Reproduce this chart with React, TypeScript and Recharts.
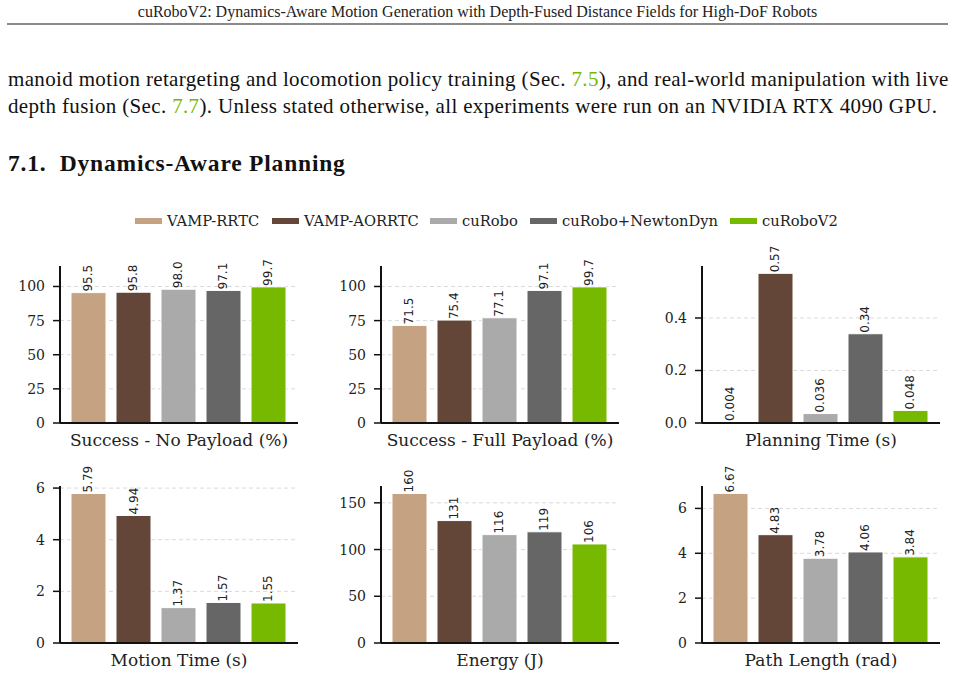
import React from 'react';
import { BarChart, Bar, XAxis, YAxis, CartesianGrid, Cell, LabelList, Label } from 'recharts';

const methods = ['VAMP-RRTC', 'VAMP-AORRTC', 'cuRobo', 'cuRobo+NewtonDyn', 'cuRoboV2'];
const methodColors = ['#c4a282', '#634638', '#aaaaaa', '#666666', '#76b900'];

const successNoPayload = [95.5, 95.8, 98.0, 97.1, 99.7];
const successFullPayload = [71.5, 75.4, 77.1, 97.1, 99.7];
const planningTime = [0.004, 0.57, 0.036, 0.34, 0.048];
const motionTime = [5.79, 4.94, 1.37, 1.57, 1.55];
const energy = [160, 131, 116, 119, 106];
const pathLength = [6.67, 4.83, 3.78, 4.06, 3.84];

const percentTicks = [0, 25, 50, 75, 100];
const planningTicks = [0, 0.2, 0.4];
const motionTicks = [0, 2, 4, 6];
const energyTicks = [0, 50, 100, 150];
const pathTicks = [0, 2, 4, 6];

const SERIF = '"DejaVu Serif", serif';
const SANS = '"DejaVu Sans", sans-serif';
const PAGE = '"Liberation Serif", serif';
const GREEN = '#76b900';

// left edge of each legend swatch
const legendX = [135, 272, 430, 530, 730];

type PanelDef = {
  title: string;
  values: number[];
  domain: [number, number];
  ticks: number[];
  tickFmt: (v: number) => string;
  labelFmt: (v: number) => string;
};

const panels: PanelDef[] = [
  { title: 'Success - No Payload (%)', values: successNoPayload, domain: [0, 115], ticks: percentTicks, tickFmt: (v) => String(v), labelFmt: (v) => v.toFixed(1) },
  { title: 'Success - Full Payload (%)', values: successFullPayload, domain: [0, 115], ticks: percentTicks, tickFmt: (v) => String(v), labelFmt: (v) => v.toFixed(1) },
  { title: 'Planning Time (s)', values: planningTime, domain: [0, 0.598], ticks: planningTicks, tickFmt: (v) => v.toFixed(1), labelFmt: (v) => String(v) },
  { title: 'Motion Time (s)', values: motionTime, domain: [0, 6.08], ticks: motionTicks, tickFmt: (v) => String(v), labelFmt: (v) => v.toFixed(2) },
  { title: 'Energy (J)', values: energy, domain: [0, 168], ticks: energyTicks, tickFmt: (v) => String(v), labelFmt: (v) => v.toFixed(0) },
  { title: 'Path Length (rad)', values: pathLength, domain: [0, 7.0], ticks: pathTicks, tickFmt: (v) => String(v), labelFmt: (v) => v.toFixed(2) },
];

// value printed vertically just above the bar top
function RotLabel(props: any) {
  const { x, y, width, value, fmt } = props;
  const cx = Number(x) + Number(width) / 2;
  const cy = Number(y) - 1;
  return (
    <text
      x={cx}
      y={cy}
      transform={`rotate(-90, ${cx}, ${cy})`}
      textAnchor="start"
      dominantBaseline="central"
      fontFamily={SANS}
      fontSize={12}
      fill="#222"
    >
      {fmt(Number(value))}
    </text>
  );
}

// metric name centred under the x axis
function AxisTitle(props: any) {
  const { viewBox, value } = props;
  const cx = viewBox.x + viewBox.width / 2;
  return (
    <text x={cx} y={viewBox.y + 23} textAnchor="middle" fontFamily={SERIF} fontSize={17} fill="#222">
      {value}
    </text>
  );
}

function Panel({ p, left, top }: { p: PanelDef; left: number; top: number }) {
  const data = methods.map((m, i) => ({ name: m, value: p.values[i] }));
  return (
    <div style={{ position: 'absolute', left, top }}>
      <BarChart width={308} height={222} data={data} margin={{ top: 30, right: 10, bottom: 5, left: 0 }} style={{ overflow: 'visible' }}>
        <CartesianGrid vertical={false} syncWithTicks stroke="#dadada" strokeDasharray="4 3" />
        <XAxis
          dataKey="name"
          tick={false}
          tickLine={false}
          axisLine={{ stroke: '#111', strokeWidth: 2 }}
          height={30}
          padding={{ left: 6, right: 7 }}
        >
          <Label value={p.title} content={(lp: any) => <AxisTitle {...lp} value={p.title} />} />
        </XAxis>
        <YAxis
          width={60}
          domain={p.domain}
          ticks={p.ticks}
          allowDataOverflow
          tickFormatter={p.tickFmt}
          tick={{ fill: '#222', fontSize: 14, fontFamily: SERIF }}
          axisLine={{ stroke: '#111', strokeWidth: 2 }}
          tickLine={{ stroke: '#111', strokeWidth: 1.5 }}
          tickSize={7}
          tickMargin={8}
        />
        <Bar dataKey="value" barSize={35} stroke="#ffffff" strokeWidth={1} isAnimationActive={false}>
          {data.map((d, i) => (
            <Cell key={d.name} fill={methodColors[i]} />
          ))}
          <LabelList dataKey="value" content={(lp: any) => <RotLabel {...lp} fmt={p.labelFmt} />} />
        </Bar>
      </BarChart>
    </div>
  );
}

function Legend() {
  return (
    <>
      {methods.map((m, i) => (
        <div
          key={m}
          style={{ position: 'absolute', left: legendX[i], top: 211, display: 'flex', alignItems: 'center', gap: 5, fontFamily: SERIF, fontSize: 14.7, color: '#222', lineHeight: '20px', whiteSpace: 'nowrap' }}
        >
          <span style={{ display: 'inline-block', width: 27, height: 6, background: methodColors[i] }} />
          <span>{m}</span>
        </div>
      ))}
    </>
  );
}

export default function App() {
  const cols = [0, 321, 642];
  const rows = [235.5, 455.5];
  return (
    <div style={{ position: 'absolute', left: 0, top: 0, width: 955, height: 696, background: '#fff', overflow: 'hidden' }}>
      <div style={{ position: 'absolute', top: 2, left: 0, width: 955, textAlign: 'center', fontFamily: PAGE, fontSize: 16, lineHeight: '20px', color: '#222' }}>
        cuRoboV2: Dynamics-Aware Motion Generation with Depth-Fused Distance Fields for High-DoF Robots
      </div>
      <div style={{ position: 'absolute', top: 23, left: 7, width: 941, height: 2, background: '#8a8a8a' }} />
      <div style={{ position: 'absolute', top: 67, left: 8, width: 940, fontFamily: PAGE, fontSize: 21, letterSpacing: 0.35, lineHeight: '24px', color: '#111', textAlign: 'justify', textAlignLast: 'justify', whiteSpace: 'nowrap' }}>
        manoid motion retargeting and locomotion policy training (Sec. <span style={{ color: GREEN }}>7.5</span>), and real-world manipulation with live
      </div>
      <div style={{ position: 'absolute', top: 94, left: 8, fontFamily: PAGE, fontSize: 21, letterSpacing: 0.35, lineHeight: '24px', color: '#111', whiteSpace: 'nowrap' }}>
        depth fusion (Sec. <span style={{ color: GREEN }}>7.7</span>). Unless stated otherwise, all experiments were run on an NVIDIA RTX 4090 GPU.
      </div>
      <div style={{ position: 'absolute', top: 149, left: 8, fontFamily: PAGE, fontSize: 23.5, letterSpacing: 0.8, fontWeight: 'bold', lineHeight: '28px', color: '#111', whiteSpace: 'pre' }}>
        {'7.1.  Dynamics-Aware Planning'}
      </div>
      <Legend />
      {panels.map((p, i) => (
        <Panel key={p.title} p={p} left={cols[i % 3]} top={rows[Math.floor(i / 3)]} />
      ))}
    </div>
  );
}
